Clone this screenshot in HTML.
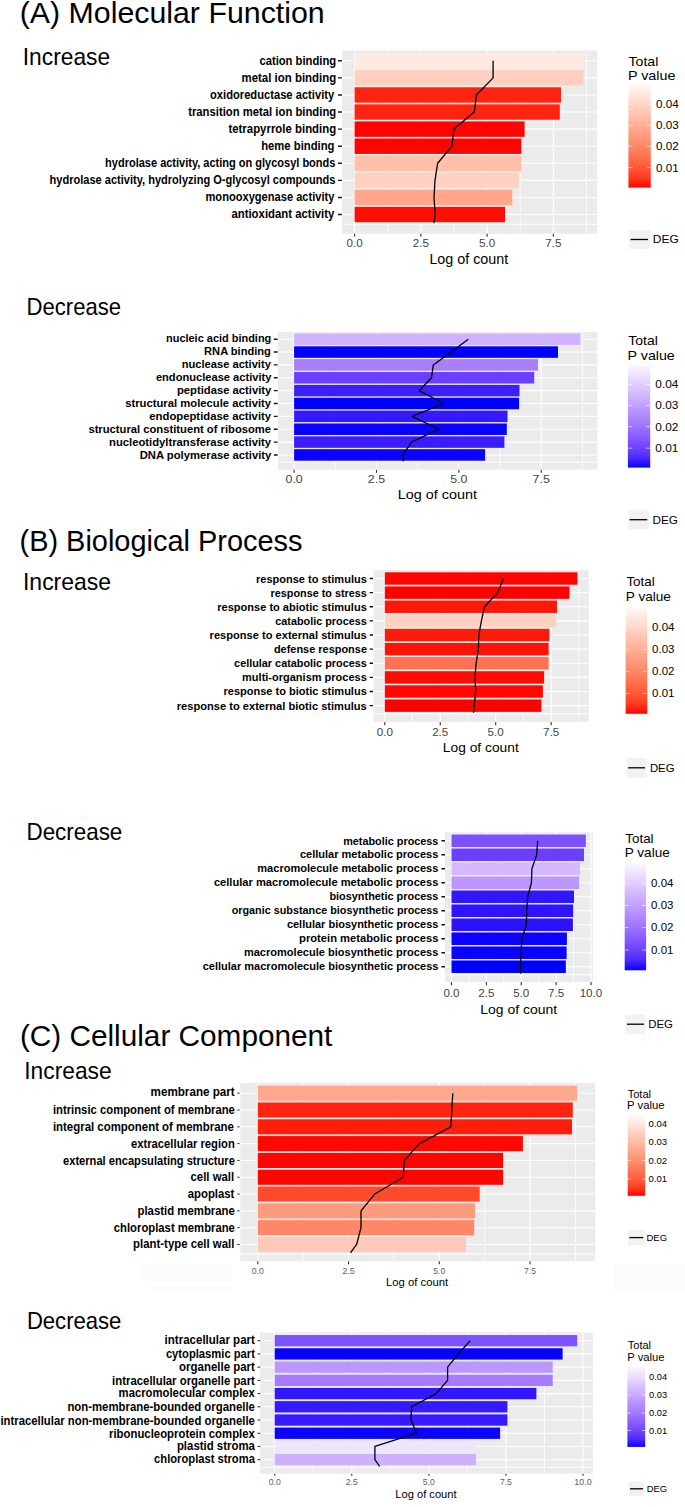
<!DOCTYPE html>
<html lang="en"><head><meta charset="utf-8"><title>GO enrichment of DEGs</title>
<style>
html,body{margin:0;padding:0;background:#fff}
svg{display:block;font-family:"Liberation Sans",sans-serif}
</style></head><body>
<svg width="685" height="1507" viewBox="0 0 685 1507">
<defs><linearGradient id="g1" x1="0" y1="0" x2="0" y2="1"><stop offset="0" stop-color="#FFF9F7"/><stop offset="0.1" stop-color="#FFE7DE"/><stop offset="0.2" stop-color="#FFD4C5"/><stop offset="0.3" stop-color="#FFC1AD"/><stop offset="0.4" stop-color="#FFAE95"/><stop offset="0.5" stop-color="#FF9B7E"/><stop offset="0.6" stop-color="#FF8767"/><stop offset="0.7" stop-color="#FF7250"/><stop offset="0.8" stop-color="#FF5A39"/><stop offset="0.9" stop-color="#FF3D21"/><stop offset="1" stop-color="#FF0401"/></linearGradient>
<linearGradient id="g2" x1="0" y1="0" x2="0" y2="1"><stop offset="0" stop-color="#FBF7FF"/><stop offset="0.1" stop-color="#EEE1FF"/><stop offset="0.2" stop-color="#E0CAFF"/><stop offset="0.3" stop-color="#D1B4FF"/><stop offset="0.4" stop-color="#C19EFF"/><stop offset="0.5" stop-color="#B088FF"/><stop offset="0.6" stop-color="#9E72FF"/><stop offset="0.7" stop-color="#885CFF"/><stop offset="0.8" stop-color="#7044FF"/><stop offset="0.9" stop-color="#4F2BFF"/><stop offset="1" stop-color="#0802FF"/></linearGradient>
<linearGradient id="g3" x1="0" y1="0" x2="0" y2="1"><stop offset="0" stop-color="#FFF9F7"/><stop offset="0.1" stop-color="#FFE7DE"/><stop offset="0.2" stop-color="#FFD4C5"/><stop offset="0.3" stop-color="#FFC1AD"/><stop offset="0.4" stop-color="#FFAE95"/><stop offset="0.5" stop-color="#FF9B7E"/><stop offset="0.6" stop-color="#FF8767"/><stop offset="0.7" stop-color="#FF7250"/><stop offset="0.8" stop-color="#FF5A39"/><stop offset="0.9" stop-color="#FF3D21"/><stop offset="1" stop-color="#FF0401"/></linearGradient>
<linearGradient id="g4" x1="0" y1="0" x2="0" y2="1"><stop offset="0" stop-color="#FBF7FF"/><stop offset="0.1" stop-color="#EEE1FF"/><stop offset="0.2" stop-color="#E0CAFF"/><stop offset="0.3" stop-color="#D1B4FF"/><stop offset="0.4" stop-color="#C19EFF"/><stop offset="0.5" stop-color="#B088FF"/><stop offset="0.6" stop-color="#9E72FF"/><stop offset="0.7" stop-color="#885CFF"/><stop offset="0.8" stop-color="#7044FF"/><stop offset="0.9" stop-color="#4F2BFF"/><stop offset="1" stop-color="#0802FF"/></linearGradient>
<linearGradient id="g5" x1="0" y1="0" x2="0" y2="1"><stop offset="0" stop-color="#FFF9F7"/><stop offset="0.1" stop-color="#FFE7DE"/><stop offset="0.2" stop-color="#FFD4C5"/><stop offset="0.3" stop-color="#FFC1AD"/><stop offset="0.4" stop-color="#FFAE95"/><stop offset="0.5" stop-color="#FF9B7E"/><stop offset="0.6" stop-color="#FF8767"/><stop offset="0.7" stop-color="#FF7250"/><stop offset="0.8" stop-color="#FF5A39"/><stop offset="0.9" stop-color="#FF3D21"/><stop offset="1" stop-color="#FF0401"/></linearGradient>
<linearGradient id="g6" x1="0" y1="0" x2="0" y2="1"><stop offset="0" stop-color="#FBF7FF"/><stop offset="0.1" stop-color="#EEE1FF"/><stop offset="0.2" stop-color="#E0CAFF"/><stop offset="0.3" stop-color="#D1B4FF"/><stop offset="0.4" stop-color="#C19EFF"/><stop offset="0.5" stop-color="#B088FF"/><stop offset="0.6" stop-color="#9E72FF"/><stop offset="0.7" stop-color="#885CFF"/><stop offset="0.8" stop-color="#7044FF"/><stop offset="0.9" stop-color="#4F2BFF"/><stop offset="1" stop-color="#0802FF"/></linearGradient></defs>
<rect width="685" height="1507" fill="#fff"/>
<g id="c1">
<rect x="342" y="50.5" width="255.2" height="183.3" fill="#EBEBEB"/>
<path d="M387.73 50.5V233.8M453.98 50.5V233.8M520.23 50.5V233.8M586.48 50.5V233.8" stroke="#fff" stroke-width="0.9" opacity="0.9" fill="none"/>
<path d="M354.6 50.5V233.8M420.85 50.5V233.8M487.1 50.5V233.8M553.35 50.5V233.8M342 60.8H597.2M342 77.88H597.2M342 94.96H597.2M342 112.04H597.2M342 129.12H597.2M342 146.2H597.2M342 163.28H597.2M342 180.36H597.2M342 197.44H597.2M342 214.52H597.2M342 224.26H597.2" stroke="#fff" stroke-width="1.1" fill="none"/>
<rect x="354.6" y="53.1" width="229.7" height="15.4" fill="#FFEAE2"/>
<rect x="354.6" y="70.18" width="228.9" height="15.4" fill="#FFCFBF"/>
<rect x="354.6" y="87.26" width="206.4" height="15.4" fill="#FF2410"/>
<rect x="354.6" y="104.34" width="205.2" height="15.4" fill="#FF2410"/>
<rect x="354.6" y="121.42" width="170" height="15.4" fill="#FF0301"/>
<rect x="354.6" y="138.5" width="166.7" height="15.4" fill="#FF0301"/>
<rect x="354.6" y="155.58" width="166.7" height="15.4" fill="#FFC0AB"/>
<rect x="354.6" y="172.66" width="164.3" height="15.4" fill="#FFD1C1"/>
<rect x="354.6" y="189.74" width="157.7" height="15.4" fill="#FFA68B"/>
<rect x="354.6" y="206.82" width="150.4" height="15.4" fill="#FF0E04"/>
<polyline points="493.1,60.8 493.1,77.88 476.4,94.96 474.3,112.04 453.9,129.12 452,146.2 437.6,163.28 435,180.36 434,197.44 435.2,214.52 433.9,223.06" fill="none" stroke="#000" stroke-width="1.3" stroke-linejoin="round"/>
<g font-weight="bold" font-size="11.9" text-anchor="end">
<text x="336.2" y="64.5" textLength="76.8" lengthAdjust="spacingAndGlyphs">cation binding</text>
<text x="336.2" y="81.6" textLength="94.7" lengthAdjust="spacingAndGlyphs">metal ion binding</text>
<text x="334.2" y="98.7" textLength="124.2" lengthAdjust="spacingAndGlyphs">oxidoreductase activity</text>
<text x="336.2" y="115.8" textLength="148" lengthAdjust="spacingAndGlyphs">transition metal ion binding</text>
<text x="336.2" y="132.9" textLength="107.8" lengthAdjust="spacingAndGlyphs">tetrapyrrole binding</text>
<text x="334.5" y="150" textLength="73.3" lengthAdjust="spacingAndGlyphs">heme binding</text>
<text x="335.4" y="167.1" textLength="230.3" lengthAdjust="spacingAndGlyphs">hydrolase activity, acting on glycosyl bonds</text>
<text x="335.4" y="184.2" textLength="285.9" lengthAdjust="spacingAndGlyphs">hydrolase activity, hydrolyzing O-glycosyl compounds</text>
<text x="334.4" y="201.3" textLength="128.9" lengthAdjust="spacingAndGlyphs">monooxygenase activity</text>
<text x="334.4" y="218.4" textLength="103" lengthAdjust="spacingAndGlyphs">antioxidant activity</text>
</g>
<path d="M338 60.8H341.8M338 77.88H341.8M338 94.96H341.8M338 112.04H341.8M338 129.12H341.8M338 146.2H341.8M338 163.28H341.8M338 180.36H341.8M338 197.44H341.8M338 214.52H341.8" stroke="#111" stroke-width="1.4" fill="none"/>
<g font-size="11" text-anchor="middle" fill="#444">
<text x="354.6" y="247" textLength="16.1" lengthAdjust="spacingAndGlyphs">0.0</text>
<text x="420.85" y="247" textLength="16.1" lengthAdjust="spacingAndGlyphs">2.5</text>
<text x="487.1" y="247" textLength="16.1" lengthAdjust="spacingAndGlyphs">5.0</text>
<text x="553.35" y="247" textLength="16.1" lengthAdjust="spacingAndGlyphs">7.5</text>
</g>
<path d="M354.6 233.8V236.8M420.85 233.8V236.8M487.1 233.8V236.8M553.35 233.8V236.8" stroke="#333" stroke-width="1.1" fill="none"/>
<text x="429.4" y="263.7" font-size="14" textLength="78.8" lengthAdjust="spacingAndGlyphs">Log of count</text>
<text x="628.5" y="65.9" font-size="13.3" textLength="29.86" lengthAdjust="spacingAndGlyphs">Total</text>
<text x="627.9" y="79.8" font-size="13.3" textLength="47.6" lengthAdjust="spacingAndGlyphs">P value</text>
<rect x="628.4" y="84" width="22.4" height="103.6" fill="url(#g1)"/>
<g font-size="11">
<text x="656" y="108.46" textLength="22.7" lengthAdjust="spacingAndGlyphs">0.04</text>
<text x="656" y="129.46" textLength="22.7" lengthAdjust="spacingAndGlyphs">0.03</text>
<text x="656" y="150.36" textLength="22.7" lengthAdjust="spacingAndGlyphs">0.02</text>
<text x="656" y="171.56" textLength="22.7" lengthAdjust="spacingAndGlyphs">0.01</text>
</g>
<path d="M628.4 104.5h4.48M650.8 104.5h-4.48M628.4 125.5h4.48M650.8 125.5h-4.48M628.4 146.4h4.48M650.8 146.4h-4.48M628.4 167.6h4.48M650.8 167.6h-4.48" stroke="#fff" stroke-width="0.7" opacity="0.85" fill="none"/>
<rect x="629.2" y="230" width="20.8" height="19" fill="#F2F2F2"/>
<path d="M630.6 239.5H648" stroke="#000" stroke-width="1.3"/>
<text x="652.8" y="243.4" font-size="11" textLength="25.9" lengthAdjust="spacingAndGlyphs">DEG</text>
</g>
<g id="c2">
<rect x="278" y="331.9" width="319.3" height="137.8" fill="#EBEBEB"/>
<path d="M335.29 331.9V469.7M417.66 331.9V469.7M500.04 331.9V469.7M582.41 331.9V469.7" stroke="#fff" stroke-width="0.9" opacity="0.9" fill="none"/>
<path d="M294.1 331.9V469.7M376.48 331.9V469.7M458.85 331.9V469.7M541.23 331.9V469.7M278 339.2H597.3M278 352.06H597.3M278 364.92H597.3M278 377.78H597.3M278 390.64H597.3M278 403.5H597.3M278 416.36H597.3M278 429.22H597.3M278 442.08H597.3M278 454.94H597.3M278 462.27H597.3" stroke="#fff" stroke-width="1.1" fill="none"/>
<rect x="294.1" y="333.45" width="286.3" height="11.5" fill="#D0B2FF"/>
<rect x="294.1" y="346.31" width="263.9" height="11.5" fill="#0000FF"/>
<rect x="294.1" y="359.17" width="243.9" height="11.5" fill="#A87DFF"/>
<rect x="294.1" y="372.03" width="240.1" height="11.5" fill="#6A3FFF"/>
<rect x="294.1" y="384.89" width="225.4" height="11.5" fill="#3D1EFF"/>
<rect x="294.1" y="397.75" width="225" height="11.5" fill="#0000FF"/>
<rect x="294.1" y="410.61" width="213.4" height="11.5" fill="#3519FF"/>
<rect x="294.1" y="423.47" width="212.7" height="11.5" fill="#0A02FF"/>
<rect x="294.1" y="436.33" width="210.3" height="11.5" fill="#3A1CFF"/>
<rect x="294.1" y="449.19" width="191" height="11.5" fill="#0A02FF"/>
<polyline points="468.3,339.2 451.1,352.06 433.3,364.92 431.5,377.78 419.2,390.64 443.8,403.5 412.2,416.36 438.5,429.22 411.5,442.08 402.8,454.94 403.5,461.37" fill="none" stroke="#000" stroke-width="1.3" stroke-linejoin="round"/>
<g font-weight="bold" font-size="11.8" text-anchor="end">
<text x="271.3" y="342.4" textLength="105.3" lengthAdjust="spacingAndGlyphs">nucleic acid binding</text>
<text x="270.9" y="355.36" textLength="66.8" lengthAdjust="spacingAndGlyphs">RNA binding</text>
<text x="270.9" y="368.31" textLength="89.2" lengthAdjust="spacingAndGlyphs">nuclease activity</text>
<text x="271.4" y="381.27" textLength="115.5" lengthAdjust="spacingAndGlyphs">endonuclease activity</text>
<text x="271.4" y="394.22" textLength="94.5" lengthAdjust="spacingAndGlyphs">peptidase activity</text>
<text x="271.1" y="407.18" textLength="145.9" lengthAdjust="spacingAndGlyphs">structural molecule activity</text>
<text x="271.1" y="420.13" textLength="121.8" lengthAdjust="spacingAndGlyphs">endopeptidase activity</text>
<text x="271.1" y="433.09" textLength="182.7" lengthAdjust="spacingAndGlyphs">structural constituent of ribosome</text>
<text x="271.1" y="446.04" textLength="162.1" lengthAdjust="spacingAndGlyphs">nucleotidyltransferase activity</text>
<text x="271.4" y="459" textLength="131.7" lengthAdjust="spacingAndGlyphs">DNA polymerase activity</text>
</g>
<path d="M273.9 339.2H277.6M273.9 352.06H277.6M273.9 364.92H277.6M273.9 377.78H277.6M273.9 390.64H277.6M273.9 403.5H277.6M273.9 416.36H277.6M273.9 429.22H277.6M273.9 442.08H277.6M273.9 454.94H277.6" stroke="#111" stroke-width="1.4" fill="none"/>
<g font-size="10.6" text-anchor="middle" fill="#444">
<text x="294.1" y="483.3" textLength="17.2" lengthAdjust="spacingAndGlyphs">0.0</text>
<text x="376.48" y="483.3" textLength="17.2" lengthAdjust="spacingAndGlyphs">2.5</text>
<text x="458.85" y="483.3" textLength="17.2" lengthAdjust="spacingAndGlyphs">5.0</text>
<text x="541.23" y="483.3" textLength="17.2" lengthAdjust="spacingAndGlyphs">7.5</text>
</g>
<path d="M294.1 469.7V472.8M376.48 469.7V472.8M458.85 469.7V472.8M541.23 469.7V472.8" stroke="#333" stroke-width="1.1" fill="none"/>
<text x="397.7" y="499.2" font-size="13" textLength="79.2" lengthAdjust="spacingAndGlyphs">Log of count</text>
<text x="628.2" y="345.4" font-size="13.3" textLength="29.61" lengthAdjust="spacingAndGlyphs">Total</text>
<text x="627.6" y="359.5" font-size="13.3" textLength="47.2" lengthAdjust="spacingAndGlyphs">P value</text>
<rect x="627.9" y="365.3" width="22.3" height="102.3" fill="url(#g2)"/>
<g font-size="11">
<text x="655.3" y="388.46" textLength="23.1" lengthAdjust="spacingAndGlyphs">0.04</text>
<text x="655.3" y="409.36" textLength="23.1" lengthAdjust="spacingAndGlyphs">0.03</text>
<text x="655.3" y="430.66" textLength="23.1" lengthAdjust="spacingAndGlyphs">0.02</text>
<text x="655.3" y="452.16" textLength="23.1" lengthAdjust="spacingAndGlyphs">0.01</text>
</g>
<path d="M627.9 384.5h4.46M650.2 384.5h-4.46M627.9 405.4h4.46M650.2 405.4h-4.46M627.9 426.7h4.46M650.2 426.7h-4.46M627.9 448.2h4.46M650.2 448.2h-4.46" stroke="#fff" stroke-width="0.7" opacity="0.85" fill="none"/>
<rect x="628.7" y="510.1" width="20.2" height="19.2" fill="#F2F2F2"/>
<path d="M629.6 519.7H647.2" stroke="#000" stroke-width="1.3"/>
<text x="652.6" y="523.7" font-size="11" textLength="25.3" lengthAdjust="spacingAndGlyphs">DEG</text>
</g>
<g id="c3">
<rect x="373.6" y="570.2" width="215.2" height="151.8" fill="#EBEBEB"/>
<path d="M412.53 570.2V722M467.98 570.2V722M523.42 570.2V722M578.88 570.2V722" stroke="#fff" stroke-width="0.9" opacity="0.9" fill="none"/>
<path d="M384.8 570.2V722M440.25 570.2V722M495.7 570.2V722M551.15 570.2V722M373.6 578.5H588.8M373.6 592.63H588.8M373.6 606.76H588.8M373.6 620.89H588.8M373.6 635.02H588.8M373.6 649.15H588.8M373.6 663.28H588.8M373.6 677.41H588.8M373.6 691.54H588.8M373.6 705.67H588.8M373.6 713.72H588.8" stroke="#fff" stroke-width="1.1" fill="none"/>
<rect x="384.8" y="572.3" width="192.7" height="12.4" fill="#FF0401"/>
<rect x="384.8" y="586.43" width="184.7" height="12.4" fill="#FF0000"/>
<rect x="384.8" y="600.56" width="172.2" height="12.4" fill="#FF1708"/>
<rect x="384.8" y="614.69" width="171" height="12.4" fill="#FFD1C1"/>
<rect x="384.8" y="628.82" width="164.6" height="12.4" fill="#FF1B0A"/>
<rect x="384.8" y="642.95" width="163.8" height="12.4" fill="#FF1306"/>
<rect x="384.8" y="657.08" width="163.8" height="12.4" fill="#FF7150"/>
<rect x="384.8" y="671.21" width="159.3" height="12.4" fill="#FF0B03"/>
<rect x="384.8" y="685.34" width="158.1" height="12.4" fill="#FF0601"/>
<rect x="384.8" y="699.47" width="156.6" height="12.4" fill="#FF0000"/>
<polyline points="503.5,578.5 497.8,592.63 484.5,606.76 481.4,620.89 478.8,635.02 478.4,649.15 476.1,663.28 475,677.41 475.7,691.54 474.2,705.67 473.5,712.74" fill="none" stroke="#000" stroke-width="1.3" stroke-linejoin="round"/>
<g font-weight="bold" font-size="11.8" text-anchor="end">
<text x="366.8" y="582.5" textLength="110.8" lengthAdjust="spacingAndGlyphs">response to stimulus</text>
<text x="366.8" y="596.62" textLength="96.2" lengthAdjust="spacingAndGlyphs">response to stress</text>
<text x="366.8" y="610.74" textLength="149.5" lengthAdjust="spacingAndGlyphs">response to abiotic stimulus</text>
<text x="366.8" y="624.87" textLength="91.5" lengthAdjust="spacingAndGlyphs">catabolic process</text>
<text x="366.8" y="638.99" textLength="157.2" lengthAdjust="spacingAndGlyphs">response to external stimulus</text>
<text x="367" y="653.11" textLength="93.1" lengthAdjust="spacingAndGlyphs">defense response</text>
<text x="366.8" y="667.23" textLength="132.7" lengthAdjust="spacingAndGlyphs">cellular catabolic process</text>
<text x="366.8" y="681.36" textLength="124.7" lengthAdjust="spacingAndGlyphs">multi-organism process</text>
<text x="366.8" y="695.48" textLength="143.3" lengthAdjust="spacingAndGlyphs">response to biotic stimulus</text>
<text x="366.8" y="709.6" textLength="190" lengthAdjust="spacingAndGlyphs">response to external biotic stimulus</text>
</g>
<path d="M369.6 578.5H373M369.6 592.63H373M369.6 606.76H373M369.6 620.89H373M369.6 635.02H373M369.6 649.15H373M369.6 663.28H373M369.6 677.41H373M369.6 691.54H373M369.6 705.67H373" stroke="#111" stroke-width="1.4" fill="none"/>
<g font-size="10.5" text-anchor="middle" fill="#444">
<text x="384.8" y="735.6" textLength="16.2" lengthAdjust="spacingAndGlyphs">0.0</text>
<text x="440.25" y="735.6" textLength="16.2" lengthAdjust="spacingAndGlyphs">2.5</text>
<text x="495.7" y="735.6" textLength="16.2" lengthAdjust="spacingAndGlyphs">5.0</text>
<text x="551.15" y="735.6" textLength="16.2" lengthAdjust="spacingAndGlyphs">7.5</text>
</g>
<path d="M384.8 722V725.2M440.25 722V725.2M495.7 722V725.2M551.15 722V725.2" stroke="#333" stroke-width="1.1" fill="none"/>
<text x="442.8" y="752.4" font-size="13.5" textLength="76" lengthAdjust="spacingAndGlyphs">Log of count</text>
<text x="626.4" y="585.9" font-size="13" textLength="28.25" lengthAdjust="spacingAndGlyphs">Total</text>
<text x="625.8" y="600.9" font-size="13" textLength="45.1" lengthAdjust="spacingAndGlyphs">P value</text>
<rect x="625.6" y="607.3" width="21.7" height="106.5" fill="url(#g3)"/>
<g font-size="10.8">
<text x="652.1" y="630.69" textLength="22.4" lengthAdjust="spacingAndGlyphs">0.04</text>
<text x="652.1" y="653.19" textLength="22.4" lengthAdjust="spacingAndGlyphs">0.03</text>
<text x="652.1" y="675.29" textLength="22.4" lengthAdjust="spacingAndGlyphs">0.02</text>
<text x="652.1" y="697.39" textLength="22.4" lengthAdjust="spacingAndGlyphs">0.01</text>
</g>
<path d="M625.6 626.8h4.34M647.3 626.8h-4.34M625.6 649.3h4.34M647.3 649.3h-4.34M625.6 671.4h4.34M647.3 671.4h-4.34M625.6 693.5h4.34M647.3 693.5h-4.34" stroke="#fff" stroke-width="0.7" opacity="0.85" fill="none"/>
<rect x="626.7" y="757.9" width="19.8" height="19.9" fill="#F2F2F2"/>
<path d="M628.2 767.8H645" stroke="#000" stroke-width="1.3"/>
<text x="649.9" y="772.1" font-size="10.8" textLength="24.6" lengthAdjust="spacingAndGlyphs">DEG</text>
</g>
<g id="c4">
<rect x="445" y="832.3" width="147.9" height="149.8" fill="#EBEBEB"/>
<path d="M468.94 832.3V982.1M503.81 832.3V982.1M538.69 832.3V982.1M573.56 832.3V982.1" stroke="#fff" stroke-width="0.9" opacity="0.9" fill="none"/>
<path d="M451.5 832.3V982.1M486.38 832.3V982.1M521.25 832.3V982.1M556.12 832.3V982.1M591 832.3V982.1M445 840.8H592.9M445 854.79H592.9M445 868.78H592.9M445 882.77H592.9M445 896.76H592.9M445 910.75H592.9M445 924.74H592.9M445 938.73H592.9M445 952.72H592.9M445 966.71H592.9M445 974.68H592.9" stroke="#fff" stroke-width="1.1" fill="none"/>
<rect x="451.5" y="834.55" width="134.3" height="12.5" fill="#7C4FFF"/>
<rect x="451.5" y="848.54" width="132.5" height="12.5" fill="#6A3FFF"/>
<rect x="451.5" y="862.53" width="128.5" height="12.5" fill="#D4B9FF"/>
<rect x="451.5" y="876.52" width="127.7" height="12.5" fill="#BC97FF"/>
<rect x="451.5" y="890.51" width="122.5" height="12.5" fill="#3117FF"/>
<rect x="451.5" y="904.5" width="121.7" height="12.5" fill="#2E14FF"/>
<rect x="451.5" y="918.49" width="121.4" height="12.5" fill="#2A12FF"/>
<rect x="451.5" y="932.48" width="115.4" height="12.5" fill="#0C03FF"/>
<rect x="451.5" y="946.47" width="115.1" height="12.5" fill="#0A02FF"/>
<rect x="451.5" y="960.46" width="114.3" height="12.5" fill="#0000FF"/>
<polyline points="537.7,840.8 536.7,854.79 531.9,868.78 531.4,882.77 527.7,896.76 526.7,910.75 526.4,924.74 522,938.73 520.9,952.72 520.6,966.71 520.6,973.7" fill="none" stroke="#000" stroke-width="1.3" stroke-linejoin="round"/>
<g font-weight="bold" font-size="11.8" text-anchor="end">
<text x="438.4" y="844.5" textLength="95.2" lengthAdjust="spacingAndGlyphs">metabolic process</text>
<text x="438.4" y="858.46" textLength="138.5" lengthAdjust="spacingAndGlyphs">cellular metabolic process</text>
<text x="438.4" y="872.41" textLength="181.1" lengthAdjust="spacingAndGlyphs">macromolecule metabolic process</text>
<text x="438.4" y="886.37" textLength="224.5" lengthAdjust="spacingAndGlyphs">cellular macromolecule metabolic process</text>
<text x="438.4" y="900.32" textLength="109" lengthAdjust="spacingAndGlyphs">biosynthetic process</text>
<text x="438.4" y="914.28" textLength="206.7" lengthAdjust="spacingAndGlyphs">organic substance biosynthetic process</text>
<text x="438.4" y="928.23" textLength="151.5" lengthAdjust="spacingAndGlyphs">cellular biosynthetic process</text>
<text x="438.4" y="942.19" textLength="139.3" lengthAdjust="spacingAndGlyphs">protein metabolic process</text>
<text x="438.4" y="956.14" textLength="194.5" lengthAdjust="spacingAndGlyphs">macromolecule biosynthetic process</text>
<text x="438.4" y="970.1" textLength="235.7" lengthAdjust="spacingAndGlyphs">cellular macromolecule biosynthetic process</text>
</g>
<path d="M441.4 840.8H445M441.4 854.79H445M441.4 868.78H445M441.4 882.77H445M441.4 896.76H445M441.4 910.75H445M441.4 924.74H445M441.4 938.73H445M441.4 952.72H445M441.4 966.71H445" stroke="#111" stroke-width="1.4" fill="none"/>
<g font-size="10.3" text-anchor="middle" fill="#444">
<text x="451.5" y="997.4" textLength="16.1" lengthAdjust="spacingAndGlyphs">0.0</text>
<text x="486.38" y="997.4" textLength="16.1" lengthAdjust="spacingAndGlyphs">2.5</text>
<text x="521.25" y="997.4" textLength="16.1" lengthAdjust="spacingAndGlyphs">5.0</text>
<text x="556.12" y="997.4" textLength="16.1" lengthAdjust="spacingAndGlyphs">7.5</text>
<text x="591" y="997.4" textLength="22.7" lengthAdjust="spacingAndGlyphs">10.0</text>
</g>
<path d="M451.5 982.1V985.2M486.38 982.1V985.2M521.25 982.1V985.2M556.12 982.1V985.2M591 982.1V985.2" stroke="#333" stroke-width="1.1" fill="none"/>
<text x="480.3" y="1013.6" font-size="13.5" textLength="76.8" lengthAdjust="spacingAndGlyphs">Log of count</text>
<text x="625.3" y="842.6" font-size="13" textLength="28.25" lengthAdjust="spacingAndGlyphs">Total</text>
<text x="624.7" y="857.4" font-size="13" textLength="45.1" lengthAdjust="spacingAndGlyphs">P value</text>
<rect x="624.7" y="863.5" width="21.4" height="106.8" fill="url(#g4)"/>
<g font-size="10.8">
<text x="651.1" y="887.19" textLength="22.3" lengthAdjust="spacingAndGlyphs">0.04</text>
<text x="651.1" y="909.39" textLength="22.3" lengthAdjust="spacingAndGlyphs">0.03</text>
<text x="651.1" y="931.49" textLength="22.3" lengthAdjust="spacingAndGlyphs">0.02</text>
<text x="651.1" y="953.89" textLength="22.3" lengthAdjust="spacingAndGlyphs">0.01</text>
</g>
<path d="M624.7 883.3h4.28M646.1 883.3h-4.28M624.7 905.5h4.28M646.1 905.5h-4.28M624.7 927.6h4.28M646.1 927.6h-4.28M624.7 950h4.28M646.1 950h-4.28" stroke="#fff" stroke-width="0.7" opacity="0.85" fill="none"/>
<rect x="625.2" y="1014.6" width="20.1" height="19.5" fill="#F2F2F2"/>
<path d="M627 1024.2H644" stroke="#000" stroke-width="1.3"/>
<text x="648.3" y="1028.3" font-size="10.8" textLength="24.7" lengthAdjust="spacingAndGlyphs">DEG</text>
</g>
<g id="c5">
<rect x="240.3" y="1083" width="354.9" height="178.2" fill="#EBEBEB"/>
<path d="M303.18 1083V1261.2M393.93 1083V1261.2M484.67 1083V1261.2M575.42 1083V1261.2" stroke="#fff" stroke-width="0.9" opacity="0.9" fill="none"/>
<path d="M257.8 1083V1261.2M348.55 1083V1261.2M439.3 1083V1261.2M530.05 1083V1261.2M240.3 1093.2H595.2M240.3 1110.01H595.2M240.3 1126.82H595.2M240.3 1143.63H595.2M240.3 1160.44H595.2M240.3 1177.25H595.2M240.3 1194.06H595.2M240.3 1210.87H595.2M240.3 1227.68H595.2M240.3 1244.49H595.2M240.3 1254.07H595.2" stroke="#fff" stroke-width="1.1" fill="none"/>
<rect x="257.8" y="1085.65" width="319.4" height="15.1" fill="#FFA88D"/>
<rect x="257.8" y="1102.46" width="315" height="15.1" fill="#FF2410"/>
<rect x="257.8" y="1119.27" width="314.2" height="15.1" fill="#FF1E0C"/>
<rect x="257.8" y="1136.08" width="265.1" height="15.1" fill="#FF0702"/>
<rect x="257.8" y="1152.89" width="245.3" height="15.1" fill="#FF0401"/>
<rect x="257.8" y="1169.7" width="245.3" height="15.1" fill="#FF0401"/>
<rect x="257.8" y="1186.51" width="221.9" height="15.1" fill="#FF4A2C"/>
<rect x="257.8" y="1203.32" width="217.2" height="15.1" fill="#FF9A7C"/>
<rect x="257.8" y="1220.13" width="216.4" height="15.1" fill="#FF8767"/>
<rect x="257.8" y="1236.94" width="208.2" height="15.1" fill="#FFC9B7"/>
<polyline points="452.8,1093.2 451.8,1110.01 450.8,1126.82 419.5,1143.63 404.2,1160.44 403.4,1177.25 374.7,1194.06 361,1210.87 361,1227.68 356.6,1244.49 350.5,1252.89" fill="none" stroke="#000" stroke-width="1.3" stroke-linejoin="round"/>
<g font-weight="bold" font-size="12.4" text-anchor="end">
<text x="234.7" y="1096.1" textLength="84.1" lengthAdjust="spacingAndGlyphs">membrane part</text>
<text x="234.9" y="1113.53" textLength="182" lengthAdjust="spacingAndGlyphs">intrinsic component of membrane</text>
<text x="233.9" y="1130.67" textLength="181" lengthAdjust="spacingAndGlyphs">integral component of membrane</text>
<text x="234.9" y="1147.5" textLength="104" lengthAdjust="spacingAndGlyphs">extracellular region</text>
<text x="234.9" y="1164.63" textLength="171.9" lengthAdjust="spacingAndGlyphs">external encapsulating structure</text>
<text x="234.2" y="1181.47" textLength="43.7" lengthAdjust="spacingAndGlyphs">cell wall</text>
<text x="234.4" y="1198.3" textLength="46.6" lengthAdjust="spacingAndGlyphs">apoplast</text>
<text x="234.9" y="1214.53" textLength="97.4" lengthAdjust="spacingAndGlyphs">plastid membrane</text>
<text x="234.9" y="1232.17" textLength="121.1" lengthAdjust="spacingAndGlyphs">chloroplast membrane</text>
<text x="234.4" y="1247.9" textLength="101.3" lengthAdjust="spacingAndGlyphs">plant-type cell wall</text>
</g>
<path d="M237.3 1093.2H239.6M237.3 1110.01H239.6M237.3 1126.82H239.6M237.3 1143.63H239.6M237.3 1160.44H239.6M237.3 1177.25H239.6M237.3 1194.06H239.6M237.3 1210.87H239.6M237.3 1227.68H239.6M237.3 1244.49H239.6" stroke="#111" stroke-width="0.9" fill="none"/>
<g font-size="8.2" text-anchor="middle" fill="#5E5E5E">
<text x="257.8" y="1273.5" textLength="12" lengthAdjust="spacingAndGlyphs">0.0</text>
<text x="348.55" y="1273.5" textLength="12" lengthAdjust="spacingAndGlyphs">2.5</text>
<text x="439.3" y="1273.5" textLength="12" lengthAdjust="spacingAndGlyphs">5.0</text>
<text x="530.05" y="1273.5" textLength="12" lengthAdjust="spacingAndGlyphs">7.5</text>
</g>
<path d="M257.8 1261.2V1264.2M348.55 1261.2V1264.2M439.3 1261.2V1264.2M530.05 1261.2V1264.2" stroke="#333" stroke-width="1.1" fill="none"/>
<text x="386.1" y="1286.4" font-size="11" textLength="62" lengthAdjust="spacingAndGlyphs">Log of count</text>
<text x="627.7" y="1097.7" font-size="10.5" textLength="23.35" lengthAdjust="spacingAndGlyphs">Total</text>
<text x="627.1" y="1109.1" font-size="10.5" textLength="37.5" lengthAdjust="spacingAndGlyphs">P value</text>
<rect x="627.7" y="1115.3" width="17.5" height="80.5" fill="url(#g5)"/>
<g font-size="9">
<text x="648.6" y="1126.54" textLength="18.5" lengthAdjust="spacingAndGlyphs">0.04</text>
<text x="648.6" y="1144.74" textLength="18.5" lengthAdjust="spacingAndGlyphs">0.03</text>
<text x="648.6" y="1163.74" textLength="18.5" lengthAdjust="spacingAndGlyphs">0.02</text>
<text x="648.6" y="1182.24" textLength="18.5" lengthAdjust="spacingAndGlyphs">0.01</text>
</g>
<path d="M627.7 1123.3h3.5M645.2 1123.3h-3.5M627.7 1141.5h3.5M645.2 1141.5h-3.5M627.7 1160.5h3.5M645.2 1160.5h-3.5M627.7 1179h3.5M645.2 1179h-3.5" stroke="#fff" stroke-width="0.7" opacity="0.85" fill="none"/>
<rect x="628" y="1229.9" width="16.7" height="15.3" fill="#F2F2F2"/>
<path d="M629.4 1237.6H643.3" stroke="#000" stroke-width="1.3"/>
<text x="646.4" y="1240.8" font-size="9" textLength="20.7" lengthAdjust="spacingAndGlyphs">DEG</text>
</g>
<g id="c6">
<rect x="260" y="1332.5" width="332.8" height="141.2" fill="#EBEBEB"/>
<path d="M313.24 1332.5V1473.7M390.31 1332.5V1473.7M467.39 1332.5V1473.7M544.46 1332.5V1473.7" stroke="#fff" stroke-width="0.9" opacity="0.9" fill="none"/>
<path d="M274.7 1332.5V1473.7M351.77 1332.5V1473.7M428.85 1332.5V1473.7M505.92 1332.5V1473.7M583 1332.5V1473.7M260 1340.7H592.8M260 1353.92H592.8M260 1367.14H592.8M260 1380.36H592.8M260 1393.58H592.8M260 1406.8H592.8M260 1420.02H592.8M260 1433.24H592.8M260 1446.46H592.8M260 1459.68H592.8M260 1467.22H592.8" stroke="#fff" stroke-width="1.1" fill="none"/>
<rect x="274.7" y="1335.05" width="302.5" height="11.3" fill="#7E52FF"/>
<rect x="274.7" y="1348.27" width="287.9" height="11.3" fill="#0802FF"/>
<rect x="274.7" y="1361.49" width="278" height="11.3" fill="#BC97FF"/>
<rect x="274.7" y="1374.71" width="278" height="11.3" fill="#A67BFF"/>
<rect x="274.7" y="1387.93" width="261.7" height="11.3" fill="#3117FF"/>
<rect x="274.7" y="1401.15" width="232.7" height="11.3" fill="#3519FF"/>
<rect x="274.7" y="1414.37" width="232.7" height="11.3" fill="#3519FF"/>
<rect x="274.7" y="1427.59" width="225.4" height="11.3" fill="#0C03FF"/>
<rect x="274.7" y="1440.81" width="201.2" height="11.3" fill="#F0E5FF"/>
<rect x="274.7" y="1454.03" width="201.2" height="11.3" fill="#CEB0FF"/>
<polyline points="470.1,1340.7 458.4,1353.92 447.6,1367.14 447.6,1380.36 436.2,1393.58 411.6,1406.8 411,1420.02 416.5,1433.24 374.9,1446.46 374.9,1459.68 379.6,1466.29" fill="none" stroke="#000" stroke-width="1.3" stroke-linejoin="round"/>
<g font-weight="bold" font-size="12.4" text-anchor="end">
<text x="254.9" y="1344" textLength="90.3" lengthAdjust="spacingAndGlyphs">intracellular part</text>
<text x="254.9" y="1358.04" textLength="89" lengthAdjust="spacingAndGlyphs">cytoplasmic part</text>
<text x="254.9" y="1371.29" textLength="75.8" lengthAdjust="spacingAndGlyphs">organelle part</text>
<text x="254.9" y="1384.53" textLength="142.8" lengthAdjust="spacingAndGlyphs">intracellular organelle part</text>
<text x="254.9" y="1397.38" textLength="136.3" lengthAdjust="spacingAndGlyphs">macromolecular complex</text>
<text x="254.9" y="1411.02" textLength="187.5" lengthAdjust="spacingAndGlyphs">non-membrane-bounded organelle</text>
<text x="254.9" y="1424.97" textLength="254.5" lengthAdjust="spacingAndGlyphs">intracellular non-membrane-bounded organelle</text>
<text x="254.9" y="1437.51" textLength="145.9" lengthAdjust="spacingAndGlyphs">ribonucleoprotein complex</text>
<text x="254.9" y="1450.36" textLength="78" lengthAdjust="spacingAndGlyphs">plastid stroma</text>
<text x="254.9" y="1463.2" textLength="100.8" lengthAdjust="spacingAndGlyphs">chloroplast stroma</text>
</g>
<path d="M257.6 1340.7H260.2M257.6 1353.92H260.2M257.6 1367.14H260.2M257.6 1380.36H260.2M257.6 1393.58H260.2M257.6 1406.8H260.2M257.6 1420.02H260.2M257.6 1433.24H260.2M257.6 1446.46H260.2M257.6 1459.68H260.2" stroke="#111" stroke-width="1.0" fill="none"/>
<g font-size="8.2" text-anchor="middle" fill="#5E5E5E">
<text x="274.7" y="1485" textLength="12" lengthAdjust="spacingAndGlyphs">0.0</text>
<text x="351.77" y="1485" textLength="12" lengthAdjust="spacingAndGlyphs">2.5</text>
<text x="428.85" y="1485" textLength="12" lengthAdjust="spacingAndGlyphs">5.0</text>
<text x="505.92" y="1485" textLength="12" lengthAdjust="spacingAndGlyphs">7.5</text>
<text x="583" y="1485" textLength="17.3" lengthAdjust="spacingAndGlyphs">10.0</text>
</g>
<path d="M274.7 1473.7V1475.8M351.77 1473.7V1475.8M428.85 1473.7V1475.8M505.92 1473.7V1475.8M583 1473.7V1475.8" stroke="#333" stroke-width="1.1" fill="none"/>
<text x="395.3" y="1497.5" font-size="11" textLength="61.3" lengthAdjust="spacingAndGlyphs">Log of count</text>
<text x="627.8" y="1349.1" font-size="10.5" textLength="23.28" lengthAdjust="spacingAndGlyphs">Total</text>
<text x="627.2" y="1360.9" font-size="10.5" textLength="37.4" lengthAdjust="spacingAndGlyphs">P value</text>
<rect x="627.4" y="1367.2" width="17.8" height="79.7" fill="url(#g6)"/>
<g font-size="9">
<text x="649.1" y="1380.34" textLength="18.1" lengthAdjust="spacingAndGlyphs">0.04</text>
<text x="649.1" y="1398.14" textLength="18.1" lengthAdjust="spacingAndGlyphs">0.03</text>
<text x="649.1" y="1416.14" textLength="18.1" lengthAdjust="spacingAndGlyphs">0.02</text>
<text x="649.1" y="1433.74" textLength="18.1" lengthAdjust="spacingAndGlyphs">0.01</text>
</g>
<path d="M627.4 1377.1h3.56M645.2 1377.1h-3.56M627.4 1394.9h3.56M645.2 1394.9h-3.56M627.4 1412.9h3.56M645.2 1412.9h-3.56M627.4 1430.5h3.56M645.2 1430.5h-3.56" stroke="#fff" stroke-width="0.7" opacity="0.85" fill="none"/>
<rect x="628.6" y="1481.3" width="15.8" height="14.8" fill="#F2F2F2"/>
<path d="M630 1488.8H643" stroke="#000" stroke-width="1.3"/>
<text x="646.8" y="1491.7" font-size="9" textLength="20.4" lengthAdjust="spacingAndGlyphs">DEG</text>
</g>
<path d="M141 1264.6H231V1280.7H141ZM153 1286.5H231V1292.3H153ZM614.2 1263.8H685V1292H614.2Z" fill="#FAFBFD"/>
<g id="heads">
<text x="19.7" y="22.8" font-size="28.8" textLength="305" lengthAdjust="spacingAndGlyphs">(A) Molecular Function</text>
<text x="19.5" y="551.1" font-size="28.8" textLength="283" lengthAdjust="spacingAndGlyphs">(B) Biological Process</text>
<text x="19.9" y="1045.7" font-size="28.8" textLength="312.5" lengthAdjust="spacingAndGlyphs">(C) Cellular Component</text>
<text x="22.8" y="64.5" font-size="24.4" textLength="87.3" lengthAdjust="spacingAndGlyphs">Increase</text>
<text x="26.6" y="314.8" font-size="24.4" textLength="94.5" lengthAdjust="spacingAndGlyphs">Decrease</text>
<text x="23" y="589.9" font-size="24.4" textLength="88" lengthAdjust="spacingAndGlyphs">Increase</text>
<text x="26.5" y="840.2" font-size="24.4" textLength="95.8" lengthAdjust="spacingAndGlyphs">Decrease</text>
<text x="24.3" y="1079.1" font-size="24.4" textLength="87.3" lengthAdjust="spacingAndGlyphs">Increase</text>
<text x="26.9" y="1329.2" font-size="24.4" textLength="94.5" lengthAdjust="spacingAndGlyphs">Decrease</text>
</g>
</svg>
</body></html>
